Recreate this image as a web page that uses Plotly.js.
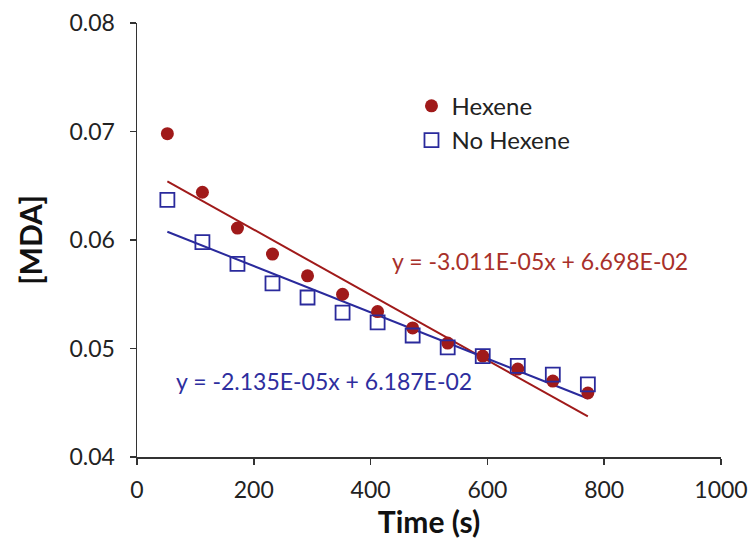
<!DOCTYPE html>
<html>
<head>
<meta charset="utf-8">
<script src="https://cdn.plot.ly/plotly-3.0.1.min.js"></script>
<style>html,body{margin:0;padding:0;background:#fff;}#chart{width:749px;height:544px;}</style>
</head>
<body>
<div id="chart"></div>
<script>
const timeS = [52, 112, 172, 232, 292, 352, 412, 472, 532, 592, 652, 712, 772];
const hexene = [0.0698, 0.0644, 0.0611, 0.0587, 0.0567, 0.0550, 0.0534, 0.0519, 0.0505, 0.0493, 0.0481, 0.0470, 0.0459];
const noHexene = [0.0637, 0.0598, 0.0578, 0.0560, 0.0547, 0.0533, 0.0524, 0.0512, 0.0501, 0.0493, 0.0484, 0.0476, 0.0467];
const hexFit = [-3.011e-05, 6.698e-02];
const noHexFit = [-2.135e-05, 6.187e-02];
const xTicks = [0, 200, 400, 600, 800, 1000];
const yTicks = [0.04, 0.05, 0.06, 0.07, 0.08];

const red = '#A01A1A';
const blue = '#2A2A9C';
const fnt = 'Lato, "Open Sans", sans-serif';

const xEnds = [timeS[0], timeS[timeS.length - 1]];
const line = (c) => xEnds.map(x => c[0] * x + c[1]);

const data = [
  {x: xEnds, y: line(hexFit), mode: 'lines', line: {color: red, width: 2}, showlegend: false, hoverinfo: 'skip'},
  {x: xEnds, y: line(noHexFit), mode: 'lines', line: {color: blue, width: 2}, showlegend: false, hoverinfo: 'skip'},
  {x: timeS, y: hexene, mode: 'markers', name: 'Hexene',
   marker: {symbol: 'circle', size: 13, color: red}},
  {x: timeS, y: noHexene, mode: 'markers', name: 'No Hexene',
   marker: {symbol: 'square-open', size: 14, color: blue, line: {width: 1.8, color: blue}}}
];

const layout = {
  width: 749, height: 544,
  margin: {l: 137, r: 28, t: 23, b: 87},
  paper_bgcolor: '#fff', plot_bgcolor: '#fff',
  font: {family: fnt, size: 23, color: '#222'},
  xaxis: {
    range: [0, 1000], tickvals: xTicks, ticktext: xTicks.map(String),
    showgrid: false, zeroline: false, showline: true, linecolor: '#333', linewidth: 1.5,
    ticks: 'outside', ticklen: 6, tickwidth: 1.5, tickcolor: '#333', ticklabelstandoff: 6,
    tickfont: {family: fnt, size: 23, color: '#222'},
    title: {text: '<b>Time (s)</b>', font: {family: fnt, size: 30, color: '#111'}, standoff: 10}
  },
  yaxis: {
    range: [0.04, 0.08], tickvals: yTicks, ticktext: yTicks.map(v => v.toFixed(2)),
    showgrid: false, zeroline: false, showline: true, linecolor: '#333', linewidth: 1.5,
    ticks: 'outside', ticklen: 6, tickwidth: 1.5, tickcolor: '#333', ticklabelstandoff: 10,
    tickfont: {family: fnt, size: 23, color: '#222'},
    title: {text: '<b>[MDA]</b>', font: {family: fnt, size: 30, color: '#111'}, standoff: 18}
  },
  legend: {x: 0.47, y: 0.86, xanchor: 'left', yanchor: 'top', bgcolor: 'rgba(0,0,0,0)',
    font: {family: fnt, size: 24, color: '#222'}, itemwidth: 30, tracegroupgap: 10, traceorder: 'normal'},
  annotations: [
    {x: 0.69, y: 0.0581, xref: 'paper', yref: 'y', xanchor: 'center', yanchor: 'middle', showarrow: false,
     text: 'y = -3.011E-05x + 6.698E-02', font: {family: fnt, size: 23, color: '#A8302A'}},
    {x: 0.32, y: 0.0470, xref: 'paper', yref: 'y', xanchor: 'center', yanchor: 'middle', showarrow: false,
     text: 'y = -2.135E-05x + 6.187E-02', font: {family: fnt, size: 23, color: '#2E2E9E'}}
  ]
};

Plotly.newPlot('chart', data, layout, {displayModeBar: false, staticPlot: true});
</script>
</body>
</html>
